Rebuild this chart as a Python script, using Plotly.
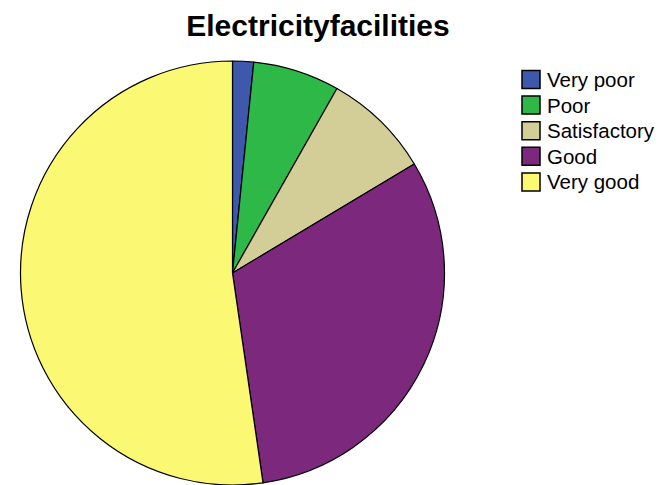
import plotly.graph_objects as go

# Survey ratings of electricity facilities (percent of respondents)
categories = ["Very poor", "Poor", "Satisfactory", "Good", "Very good"]
percentages = [1.6, 6.6, 8.2, 31.3, 52.3]
slice_colors = ["#3E58AC", "#2EB848", "#D3CE97", "#7C287D", "#FBF873"]

W, H = 666, 485
cx, cy, r = 232.5, 273, 212  # pie centre (px from left/top) and radius

fig = go.Figure(
    go.Pie(
        labels=categories,
        values=percentages,
        sort=False,
        direction="clockwise",
        rotation=0,
        textinfo="none",
        hoverinfo="label+percent",
        marker=dict(colors=slice_colors, line=dict(color="#000000", width=1.2)),
        domain=dict(
            x=[(cx - r) / W, (cx + r) / W],
            y=[(H - cy - r) / H, (H - cy + r) / H],
        ),
        showlegend=False,
    )
)

# Legend: swatch squares with labels, stacked top to bottom
leg_x, leg_y0, leg_step, sw = 522, 79.5, 25.6, 18
for i, (name, col) in enumerate(zip(categories, slice_colors)):
    yc = leg_y0 + i * leg_step
    fig.add_shape(
        type="rect",
        xref="paper", yref="paper",
        x0=leg_x / W, x1=(leg_x + sw) / W,
        y0=1 - (yc + sw / 2) / H, y1=1 - (yc - sw / 2) / H,
        fillcolor=col,
        line=dict(color="#000000", width=1.5),
    )
    fig.add_annotation(
        xref="paper", yref="paper",
        x=(leg_x + sw + 5) / W, y=1 - yc / H,
        xanchor="left", yanchor="middle",
        text=name,
        showarrow=False,
        font=dict(size=20.5, color="#000000"),
    )

fig.update_layout(
    width=W,
    height=H,
    margin=dict(l=0, r=0, t=0, b=0),
    paper_bgcolor="white",
    plot_bgcolor="white",
    font=dict(family="Liberation Sans, Arial, sans-serif", color="#000000"),
    title=dict(
        text="<b>Electricityfacilities</b>",
        x=318 / W,
        xanchor="center",
        xref="paper",
        y=1 - 25 / H,
        yanchor="middle",
        yref="container",
        font=dict(size=30, color="#000000"),
    ),
    showlegend=False,
)

fig.write_html("out.html")
